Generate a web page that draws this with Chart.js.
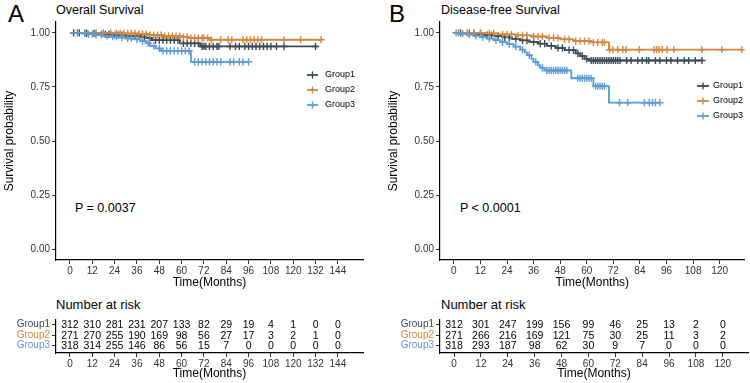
<!DOCTYPE html>
<html><head><meta charset="utf-8">
<script src="https://cdn.jsdelivr.net/npm/chart.js@4.4.1/dist/chart.umd.min.js"></script>
<style>
html,body{margin:0;padding:0;background:#fff;width:750px;height:383px;overflow:hidden;font-family:"Liberation Sans",Arial,sans-serif;}
canvas{position:absolute;display:block;}
.t{position:absolute;white-space:nowrap;line-height:1;color:#000;}
</style></head><body>
<div class="t" style="left:8px;top:2px;font-size:24px">A</div>
<div class="t" style="left:389px;top:2px;font-size:24px">B</div>
<div class="t" style="left:56px;top:4px;font-size:12.5px">Overall Survival</div>
<div class="t" style="left:441px;top:4px;font-size:12.5px">Disease-free Survival</div>
<div class="t" style="left:75px;top:202px;font-size:12.5px">P = 0.0037</div>
<div class="t" style="left:460px;top:202px;font-size:12.5px">P &lt; 0.0001</div>
<div class="t" style="left:56px;top:298px;font-size:13px">Number at risk</div>
<div class="t" style="left:441px;top:298px;font-size:13px">Number at risk</div>
<canvas id="kmA" width="375" height="294" style="left:0;top:0;width:375px;height:294px"></canvas>
<canvas id="kmB" width="375" height="294" style="left:375px;top:0;width:375px;height:294px"></canvas>
<canvas id="rtA" width="375" height="78" style="left:0;top:305px;width:375px;height:78px"></canvas>
<canvas id="rtB" width="375" height="78" style="left:375px;top:305px;width:375px;height:78px"></canvas>
<script>
// ---------- data ----------
const groups = ['Group1', 'Group2', 'Group3'];
const timeTicksA = [0, 12, 24, 36, 48, 60, 72, 84, 96, 108, 120, 132, 144];
const timeTicksB = [0, 12, 24, 36, 48, 60, 72, 84, 96, 108, 120];
const survTicks = [0, 0.25, 0.5, 0.75, 1];

// Overall survival (panel A)
const osG1Time = [0, 8, 15, 22, 30, 38, 41, 44, 59, 70, 133];
const osG1Surv = [1, 0.997, 0.993, 0.99, 0.986, 0.981, 0.976, 0.966, 0.951, 0.937, 0.937];
const osG1Cens = [2,5,9,13,17,19,21,24,26,28,31,33,35,37,40,43,46,48,50,52,54,56,58,61,63,65,67,69,71,72,73,75,77,79,80,86,89,91,94,96,98,100,102,104,106,108,111,115,132];
const osG2Time = [0, 24, 36, 42, 50, 60, 64, 75, 135];
const osG2Surv = [1, 0.997, 0.994, 0.99, 0.985, 0.98, 0.976, 0.968, 0.968];
const osG2Cens = [8,14,18,22,25,27,29,31,33,35,37,39,41,43,45,47,49,51,53,55,57,59,61,63,65,67,69,71,72,74,76,81,85,87,93,95,97,99,101,103,115,124,135];
const osG3Time = [0, 6, 10, 14, 18, 22, 26, 30, 34, 38, 41, 43, 46, 49, 65, 96];
const osG3Surv = [1, 0.997, 0.994, 0.99, 0.986, 0.982, 0.978, 0.974, 0.97, 0.962, 0.952, 0.94, 0.928, 0.917, 0.866, 0.866];
const osG3Cens = [4,8,10,12,14,17,20,23,25,28,31,33,36,39,42,45,48,50,52,54,56,58,60,62,64,67,69,71,73,75,77,79,81,86,88,91,93,96];

// Disease-free survival (panel B)
const dfsG1Time = [0, 5, 10, 14, 18, 22, 26, 30, 34, 38, 42, 46, 50, 55, 57, 59, 61, 112];
const dfsG1Surv = [1, 0.997, 0.993, 0.989, 0.985, 0.979, 0.972, 0.965, 0.958, 0.95, 0.94, 0.93, 0.92, 0.905, 0.893, 0.88, 0.872, 0.872];
const dfsG1Cens = [3,7,9,12,15,17,20,23,25,28,31,33,36,39,41,44,47,49,52,54,56,58,60,62,63,64,65,66,67,68,69,70,71,72,73,74,75,78,80,83,85,87,88,91,93,96,98,101,104,106,109,112];
const dfsG2Time = [0, 14, 20, 28, 35, 42, 48, 54, 62, 70, 130];
const dfsG2Surv = [1, 0.997, 0.993, 0.988, 0.983, 0.977, 0.97, 0.962, 0.956, 0.922, 0.922];
const dfsG2Cens = [2,6,9,12,16,18,22,24,26,29,31,33,36,38,40,43,45,47,50,52,55,57,59,61,63,65,67,68,70.3,71.8,74,76.3,77.7,83.7,90.4,91.5,92.6,94.1,96.3,99.3,112,121,130];
const dfsG3Time = [0, 3, 6, 9, 12, 15, 18, 21, 24, 27, 30, 32, 33, 35, 36, 38, 39, 41, 53, 63, 70, 93];
const dfsG3Surv = [1, 0.996, 0.992, 0.987, 0.98, 0.973, 0.966, 0.957, 0.948, 0.936, 0.922, 0.91, 0.897, 0.88, 0.866, 0.85, 0.838, 0.826, 0.79, 0.753, 0.677, 0.677];
const dfsG3Cens = [1,4,7,10,13,16,19,22,25,28,31,34,37,40,42,43,44,45,46,47,48,49,50,51,56,57,58,59,60,61,62,64,65,66,67,68,74.8,78.5,86,88.2,89.7,91,93];

// Numbers at risk
const riskA_G1 = [312, 310, 281, 231, 207, 133, 82, 29, 19, 4, 1, 0, 0];
const riskA_G2 = [271, 270, 255, 190, 169, 98, 56, 27, 17, 3, 2, 1, 0];
const riskA_G3 = [318, 314, 255, 146, 86, 56, 15, 7, 0, 0, 0, 0, 0];
const riskB_G1 = [312, 301, 247, 199, 156, 99, 46, 25, 13, 2, 0];
const riskB_G2 = [271, 266, 216, 169, 121, 75, 30, 25, 11, 3, 2];
const riskB_G3 = [318, 293, 187, 98, 62, 30, 9, 7, 0, 0, 0];

// ---------- styling ----------
const COLORS = ['#3c4a56', '#d2873c', '#5b9bd3'];
const FONT = '"Liberation Sans", Arial, sans-serif';
Chart.defaults.font.family = FONT;
Chart.defaults.color = '#333';
Chart.defaults.animation = false;

function survAt(times, surv, t) {
  let s = surv[0];
  for (let i = 0; i < times.length; i++) { if (times[i] <= t) s = surv[i]; }
  return s;
}
function stepData(times, surv) { return times.map((t, i) => ({x: t, y: surv[i]})); }
function censData(times, surv, cens) { return cens.map(t => ({x: t, y: survAt(times, surv, t)})); }

function kmDatasets(sets) {
  const ds = [];
  sets.forEach((g, i) => {
    ds.push({type: 'line', label: groups[i], data: stepData(g[0], g[1]), stepped: 'before',
      borderColor: COLORS[i], borderWidth: 1.8, pointRadius: 0, fill: false, order: 10 - i * 2});
    ds.push({type: 'scatter', label: groups[i] + ' censor', data: censData(g[0], g[1], g[2]),
      pointStyle: 'cross', pointRadius: 3.6, borderColor: COLORS[i], backgroundColor: COLORS[i],
      pointBorderWidth: 1.4, borderWidth: 1.4, showLine: false, order: 9 - i * 2});
  });
  return ds;
}

function legendPlugin(lx0, lx1, tx, ys) {
  return {
    id: 'innerLegend',
    afterDatasetsDraw(chart) {
      const ctx = chart.ctx;
      ctx.save();
      groups.forEach((g, i) => {
        const y = ys[i];
        ctx.strokeStyle = COLORS[i];
        ctx.lineWidth = 1.8;
        ctx.beginPath(); ctx.moveTo(lx0, y); ctx.lineTo(lx1, y); ctx.stroke();
        const cx = (lx0 + lx1) / 2;
        ctx.lineWidth = 1.4;
        ctx.beginPath(); ctx.moveTo(cx, y - 3.6); ctx.lineTo(cx, y + 3.6); ctx.stroke();
        ctx.fillStyle = '#000';
        ctx.font = '9px ' + FONT;
        ctx.textBaseline = 'middle';
        ctx.textAlign = 'left';
        ctx.fillText(g, tx, y);
      });
      ctx.restore();
    }
  };
}

function axisCommon() {
  return {
    grid: {display: true, drawOnChartArea: false, drawTicks: true, tickLength: 4, color: '#333', lineWidth: 1},
    border: {display: true, color: '#000', width: 1.2}
  };
}

function kmChart(id, sets, ticksX, xmin, xmax, yAxisW, titlePadTop, padRight, legend) {
  return new Chart(document.getElementById(id), {
    data: {datasets: kmDatasets(sets)},
    options: {
      responsive: false, devicePixelRatio: 1,
      layout: {padding: {top: 22, right: padRight, left: 0, bottom: 0}},
      plugins: {legend: {display: false}, tooltip: {enabled: false}},
      scales: {
        x: Object.assign(axisCommon(), {
          type: 'linear', min: xmin, max: xmax,
          afterBuildTicks: s => { s.ticks = ticksX.map(v => ({value: v})); },
          afterFit: s => { s.height = 34; },
          ticks: {font: {size: 10}, color: '#333', padding: 1, callback: v => String(v), autoSkip: false, maxRotation: 0},
          title: {display: true, text: 'Time(Months)', color: '#000', font: {size: 12}, padding: {top: 0, bottom: 4}}
        }),
        y: Object.assign(axisCommon(), {
          type: 'linear', min: -0.05, max: 1.05,
          afterBuildTicks: s => { s.ticks = survTicks.map(v => ({value: v})); },
          afterFit: s => { s.width = yAxisW; },
          ticks: {font: {size: 10}, color: '#333', padding: 2, callback: v => v.toFixed(2)},
          title: {display: true, text: 'Survival probability', color: '#000', font: {size: 12}, padding: {top: titlePadTop, bottom: 0}}
        })
      }
    },
    plugins: [legendPlugin(...legend)]
  });
}

const riskLabelPlugin = {
  id: 'riskLabels',
  afterDatasetsDraw(chart) {
    const ctx = chart.ctx;
    ctx.save();
    ctx.fillStyle = '#000';
    ctx.font = '10.5px ' + FONT;
    ctx.textAlign = 'center';
    ctx.textBaseline = 'middle';
    chart.data.datasets.forEach((ds, di) => {
      const meta = chart.getDatasetMeta(di);
      meta.data.forEach((el, i) => { ctx.fillText(String(ds.data[i].n), el.x, el.y + 0.5); });
    });
    ctx.restore();
  }
};

function riskChart(id, ticksX, risks, xmin, xmax, yAxisW, padRight) {
  return new Chart(document.getElementById(id), {
    type: 'scatter',
    data: {datasets: risks.map((r, gi) => ({
      label: groups[gi], data: ticksX.map((t, i) => ({x: t, y: gi + 1, n: r[i]})), pointRadius: 0
    }))},
    options: {
      responsive: false, devicePixelRatio: 1,
      layout: {padding: {top: 14.5, right: padRight, left: 0, bottom: 0}},
      plugins: {legend: {display: false}, tooltip: {enabled: false}},
      scales: {
        x: Object.assign(axisCommon(), {
          type: 'linear', min: xmin, max: xmax,
          afterBuildTicks: s => { s.ticks = ticksX.map(v => ({value: v})); },
          afterFit: s => { s.height = 30; },
          ticks: {font: {size: 10}, color: '#333', padding: 1, callback: v => String(v), autoSkip: false, maxRotation: 0},
          title: {display: true, text: 'Time(Months)', color: '#000', font: {size: 12}, padding: {top: 0, bottom: 2}}
        }),
        y: Object.assign(axisCommon(), {
          type: 'linear', min: 0.5, max: 3.7, reverse: true,
          afterBuildTicks: s => { s.ticks = [1, 2, 3].map(v => ({value: v})); },
          afterFit: s => { s.width = yAxisW; },
          ticks: {font: {size: 10}, padding: 2, callback: v => groups[v - 1],
            color: c => COLORS[(c.tick ? c.tick.value : 1) - 1]}
        })
      }
    },
    plugins: [riskLabelPlugin]
  });
}

kmChart('kmA', [[osG1Time, osG1Surv, osG1Cens], [osG2Time, osG2Surv, osG2Cens], [osG3Time, osG3Surv, osG3Cens]],
  timeTicksA, -7.5, 157.5, 56, 2, 12, [307, 318, 325, [75, 90, 105]]);
kmChart('kmB', [[dfsG1Time, dfsG1Surv, dfsG1Cens], [dfsG2Time, dfsG2Surv, dfsG2Cens], [dfsG3Time, dfsG3Surv, dfsG3Cens]],
  timeTicksB, -6.25, 131.25, 65, 11, 2, [322, 334, 338, [86, 101, 116]]);
riskChart('rtA', timeTicksA, [riskA_G1, riskA_G2, riskA_G3], -7.5, 157.5, 56, 12);
riskChart('rtB', timeTicksB, [riskB_G1, riskB_G2, riskB_G3], -6.25, 131.25, 65, 2);
</script>
</body></html>
